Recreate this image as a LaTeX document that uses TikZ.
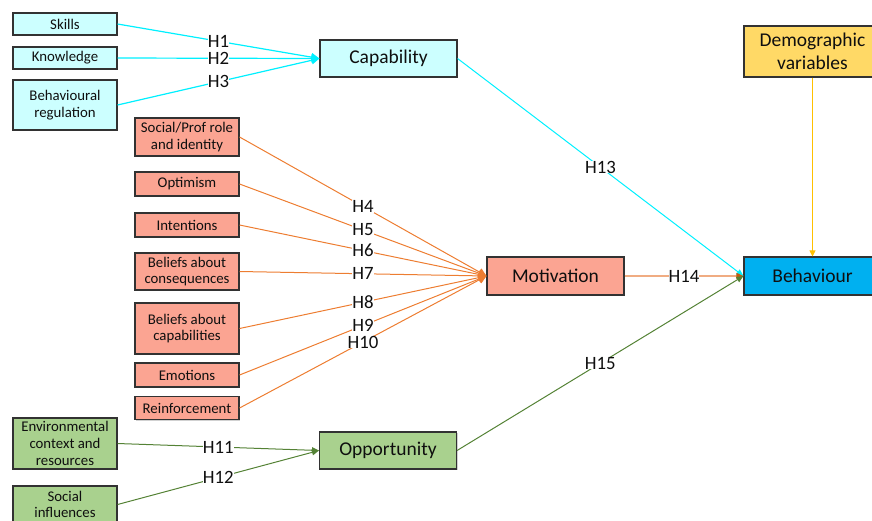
\documentclass[tikz,border=0pt]{standalone}
\usepackage{fontspec}
\setmainfont{Carlito}
\usetikzlibrary{arrows.meta,shadows}

\definecolor{txt}{RGB}{15,15,15}
\definecolor{boxline}{RGB}{50,50,50}
\definecolor{capfill}{RGB}{204,255,255}
\definecolor{capline}{RGB}{0,240,255}
\definecolor{motfill}{RGB}{251,164,146}
\definecolor{motline}{RGB}{237,125,49}
\definecolor{mottail}{RGB}{240,172,130}
\definecolor{mothead}{RGB}{197,90,17}
\definecolor{oppfill}{RGB}{169,209,142}
\definecolor{oppline}{RGB}{84,130,53}
\definecolor{behfill}{RGB}{0,176,240}
\definecolor{demfill}{RGB}{255,217,102}
\definecolor{demline}{RGB}{255,192,0}

\tikzset{
  x=1pt, y=-1pt,
  box/.style={draw=boxline, line width=1.1pt, inner sep=0pt, align=center,
    text=txt, drop shadow={shadow xshift=1.2pt, shadow yshift=-1.2pt,
    fill=black, opacity=.18}},
  small/.style={box, minimum width=104pt,
    font=\fontsize{14.8}{16.8}\selectfont},
  big/.style={box, minimum width=137pt, minimum height=37pt,
    font=\fontsize{19.5}{22.5}\selectfont},
  hl/.style={fill=white, inner sep=0pt, text=txt,
    font=\fontsize{18.8}{20}\selectfont},
  capln/.style={draw=capline, line width=1.2pt,
    -{Triangle[length=8pt,width=8pt]}},
  motln/.style={draw=motline, line width=1pt,
    -{Triangle[length=8pt,width=8pt]}},
  oppln/.style={draw=oppline, line width=1pt,
    -{Triangle[length=7pt,width=6pt]}},
}

\begin{document}
\begin{tikzpicture}
\useasboundingbox (0,0) rectangle (872,520);
\clip (0,0) rectangle (872,520);

% capability factors
\node[small, fill=capfill, minimum height=22pt] (skills) at (65,24) {Skills};
\node[small, fill=capfill, minimum height=22pt] (know) at (65,58) {Knowledge};
\node[small, fill=capfill, minimum height=50pt] (breg) at (65,105) {Behavioural\\regulation};
\node[big, fill=capfill] (cap) at (388.5,58.5) {Capability};

% motivation factors
\node[small, fill=motfill, minimum height=38pt] (soc) at (187,137) {Social/Prof role\\and identity};
\node[small, fill=motfill, minimum height=24pt] (opt) at (187,184) {Optimism};
\node[small, fill=motfill, minimum height=24pt] (int) at (187,225) {Intentions};
\node[small, fill=motfill, minimum height=37pt] (bcon) at (187,271.5) {Beliefs about\\consequences};
\node[small, fill=motfill, minimum height=51pt] (bcap) at (187,328.5) {Beliefs about\\capabilities};
\node[small, fill=motfill, minimum height=24pt] (emo) at (187,375) {Emotions};
\node[small, fill=motfill, minimum height=23pt] (rein) at (187,408) {Reinforcement};
\node[big, fill=motfill, minimum height=38pt] (mot) at (555.5,276) {Motivation};

% opportunity factors
\node[small, fill=oppfill, minimum height=51pt] (env) at (65,443.5) {Environmental\\context and\\resources};
\node[small, fill=oppfill, minimum height=37pt] (socinf) at (65,504.5) {Social\\influences};
\node[big, fill=oppfill] (opp) at (388,450.5) {Opportunity};

% outcome and covariates
\node[big, fill=behfill, minimum height=38pt] (beh) at (812.5,276) {Behaviour};
\node[big, fill=demfill, minimum height=51pt] (demo) at (812.5,51.5) {Demographic\\variables};

% hypotheses
\draw[capln] (skills.east) -- node[hl]{H1} (cap.west);
\draw[capln] (know.east) -- node[hl]{H2} (cap.west);
\draw[capln] (breg.east) -- node[hl]{H3} (cap.west);

\draw[motln] (soc.east) -- node[hl]{H4} (mot.west);
\draw[motln] (opt.east) -- node[hl]{H5} (mot.west);
\draw[motln] (int.east) -- node[hl]{H6} (mot.west);
\draw[motln] (bcon.east) -- node[hl]{H7} (mot.west);
\draw[motln] (bcap.east) -- node[hl]{H8} (mot.west);
\draw[motln] (emo.east) -- node[hl]{H9} (mot.west);
\draw[motln] (rein.east) -- node[hl]{H10} (mot.west);

\draw[oppln] (env.east) -- node[hl]{H11} (opp.west);
\draw[oppln] (socinf.east) -- node[hl]{H12} (opp.west);

\draw[draw=capline, line width=1pt, -{Triangle[length=7pt,width=6pt]}]
  (cap.east) -- node[hl]{H13} (beh.west);
\draw[draw=mottail, line width=1.5pt, -{Triangle[length=7pt,width=6pt,color=mothead]}]
  (mot.east) -- node[hl]{H14} (beh.west);
\draw[oppln] (opp.east) -- node[hl]{H15} (beh.west);

\draw[draw=demline, line width=1pt, -{Triangle[length=6pt,width=6pt]}]
  (demo.south) -- (beh.north);
\end{tikzpicture}
\end{document}
